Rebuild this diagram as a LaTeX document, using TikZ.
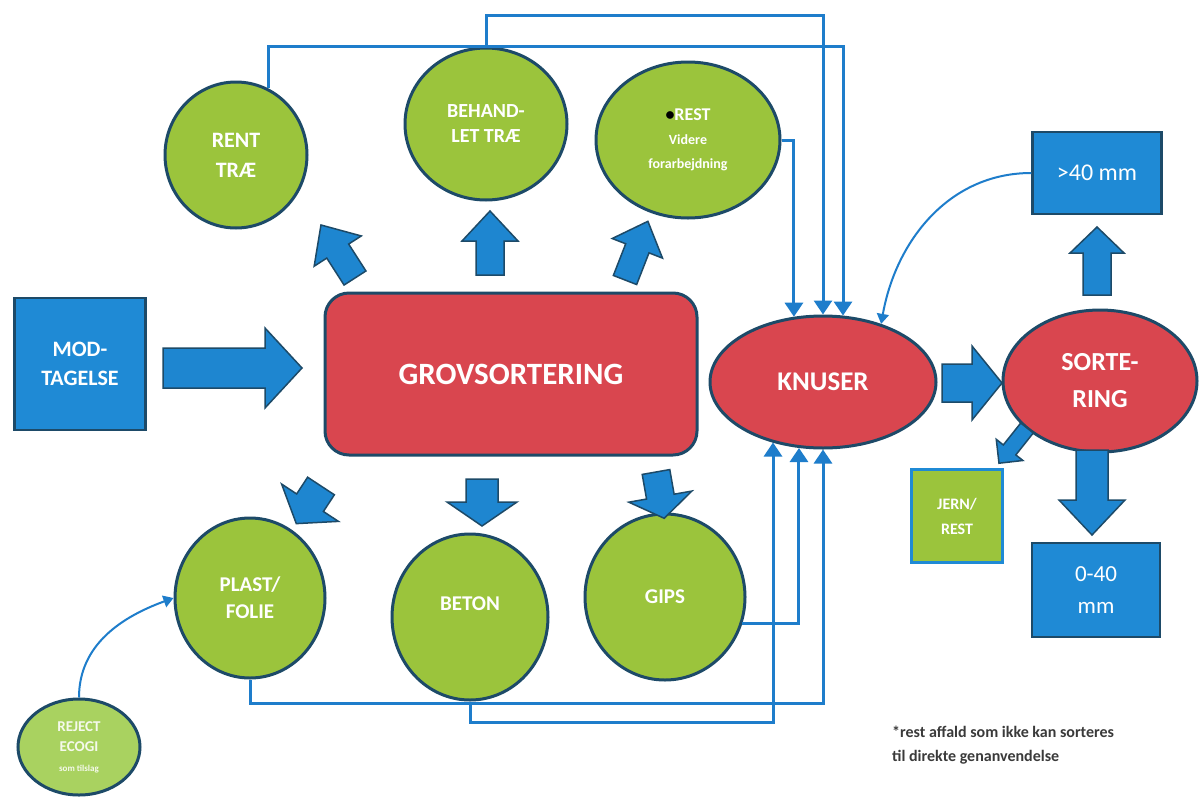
\documentclass[tikz,border=0pt]{standalone}
\usepackage{fontspec}
\setmainfont{Carlito}
\usetikzlibrary{shapes.geometric,arrows.meta}
\definecolor{leaf}{HTML}{9BC43C}
\definecolor{leaflight}{HTML}{A9D260}
\definecolor{rimdark}{HTML}{1D4A68}
\definecolor{redfill}{HTML}{D9464F}
\definecolor{boxblue}{HTML}{1F8AD5}
\definecolor{arrowblue}{HTML}{1E86D0}
\definecolor{lineblue}{HTML}{1E7DCB}
\definecolor{notegray}{HTML}{3A3A3A}
\tikzset{
  leafnode/.style={ellipse, draw=rimdark, line width=3pt, fill=leaf, inner sep=0pt, text=white, align=center},
  rednode/.style={ellipse, draw=rimdark, line width=3pt, fill=redfill, inner sep=0pt, text=white, align=center},
  bluebox/.style={rectangle, draw=rimdark, line width=2.5pt, fill=boxblue, inner sep=0pt, text=white, align=center},
  flow/.style={draw=lineblue, line width=3pt, -{Triangle[width=18pt,length=14pt]}},
  thinflow/.style={draw=lineblue, line width=2pt, -{Triangle[width=12pt,length=10pt]}},
  barrow/.style={fill=arrowblue, draw=rimdark, line width=1.5pt, line join=miter}
}
\newcommand\blockarr[7]{%
  \begin{scope}[shift={(#1,#2)},rotate=#3]
    \filldraw[barrow] (0,-#5) -- ({#4-#7},-#5) -- ({#4-#7},-#6) -- (#4,0) -- ({#4-#7},#6) -- ({#4-#7},#5) -- (0,#5) -- cycle;
  \end{scope}}
\begin{document}
\begin{tikzpicture}[x=1pt,y=-1pt]
\useasboundingbox[fill=white] (0,0) rectangle (1200,801);

% main nodes
\node[bluebox, minimum width=131pt, minimum height=132pt, font=\bfseries\fontsize{22}{29}\selectfont] (mod) at (80,364) {MOD-\\TAGELSE};
\node[draw=rimdark, line width=3pt, fill=redfill, rounded corners=24pt, minimum width=372pt, minimum height=162pt, inner sep=0pt, text=white, font=\bfseries\fontsize{31}{36}\selectfont] (grov) at (511,374) {GROVSORTERING};
\node[leafnode, minimum width=142pt, minimum height=146pt, font=\bfseries\fontsize{22}{30}\selectfont] (rent) at (236,155) {RENT\\TRÆ};
\node[leafnode, minimum width=162pt, minimum height=152pt, font=\bfseries\fontsize{20}{25}\selectfont] (behand) at (486,124) {BEHAND-\\LET TRÆ};
\node[leafnode, minimum width=184pt, minimum height=156pt, font=\bfseries\fontsize{18}{24}\selectfont] (rest) at (688,140) {{\color{black}•}REST\\{\fontsize{14}{20}\selectfont Videre}\\{\fontsize{14}{20}\selectfont forarbejdning}};
\node[leafnode, minimum width=150pt, minimum height=160pt, font=\bfseries\fontsize{21}{27}\selectfont] (plast) at (250,598) {PLAST/\\FOLIE};
\node[leafnode, minimum width=156pt, minimum height=166pt, font=\bfseries\fontsize{21}{27}\selectfont, text depth=26pt] (beton) at (470,617) {BETON};
\node[leafnode, minimum width=160pt, minimum height=166pt, font=\bfseries\fontsize{21}{27}\selectfont] (gips) at (665,597) {GIPS};
\node[ellipse, draw=rimdark, line width=3pt, fill=leaflight, inner sep=0pt, minimum width=122pt, minimum height=96pt, text=white!90!leaf, align=center, font=\bfseries\fontsize{15}{20}\selectfont] (reject) at (79,747) {REJECT\\ECOGI\\{\fontsize{9}{12}\selectfont som tilslag}};
\node[rednode, minimum width=226pt, minimum height=132pt, font=\bfseries\fontsize{27}{32}\selectfont] (knuser) at (823,382) {KNUSER};
\node[rednode, minimum width=194pt, minimum height=142pt, font=\bfseries\fontsize{26}{37}\selectfont] (sort) at (1100,381) {SORTE-\\RING};
\node[bluebox, minimum width=129pt, minimum height=82pt, font=\fontsize{24}{30}\selectfont] (gt40) at (1097,173) {>40 mm};
\node[bluebox, minimum width=128pt, minimum height=94pt, font=\fontsize{23}{32}\selectfont] (zero40) at (1096,590) {0-40\\mm};
\node[rectangle, draw=boxblue, line width=3pt, fill=leaf, inner sep=0pt, minimum width=91pt, minimum height=93pt, text=white, align=center, font=\bfseries\fontsize{16}{25}\selectfont] (jern) at (957,516) {JERN/\\REST};
\node[anchor=north west, align=left, inner sep=0pt, text=notegray, font=\bfseries\fontsize{16}{24}\selectfont] (note) at (892,726) {*rest affald som ikke kan sorteres\\til direkte genanvendelse};

% block arrows
\blockarr{163}{368}{0}{139}{20}{40}{37}
\blockarr{355}{278}{122.7}{63}{13}{28}{31}
\blockarr{490}{275}{90}{64}{14}{28}{30}
\blockarr{625}{280}{68.7}{63}{12.5}{27}{29}
\blockarr{321}{486}{-123.3}{45}{16}{34}{25}
\blockarr{482}{479}{-90}{47}{16}{35}{24}
\blockarr{656}{472}{-80}{47}{14}{32}{22}
\blockarr{942}{383}{0}{60}{19}{37}{30}
\blockarr{1097}{295}{90}{68}{14}{27}{26}
\blockarr{1092}{450}{-90}{85}{16}{33}{35}
\blockarr{1027}{428}{-128.5}{45}{8}{17}{17}

% connector corners
\coordinate (t1) at (843,46);
\coordinate (t2) at (823,15);
\coordinate (b1) at (823,703);
\coordinate (b2) at (773,722);

% connectors into the crusher
\draw[flow] (rent.64) |- (t1) -- (t1 |- knuser.73);
\draw[flow] (behand.north) |- (t2) -- (t2 |- knuser.north);
\draw[flow] (rest.east) -| (knuser.114);
\draw[flow] (plast.south) |- (b1) -- (knuser.south);
\draw[flow] (beton.south) |- (b2) -- (b2 |- knuser.-130);
\draw[flow] (gips.-19) -| (knuser.-110);
\draw[thinflow] (gt40.west) to[out=180,in=80] (knuser.45);
\draw[thinflow] (reject.north) to[out=90,in=200] (plast.west);
\end{tikzpicture}
\end{document}
